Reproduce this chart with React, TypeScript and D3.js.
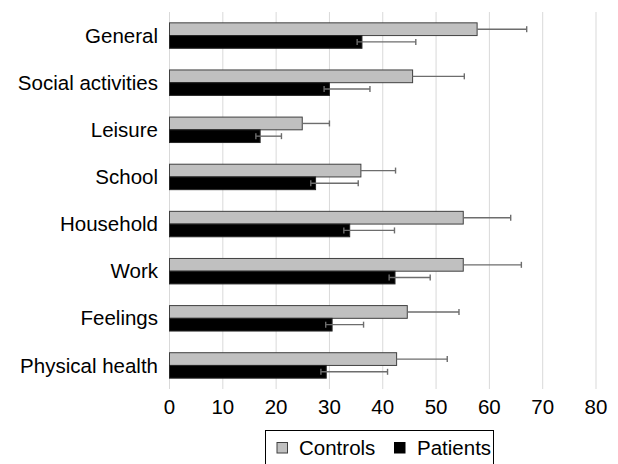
import * as React from "react";
import * as d3 from "d3";

// Mean scores per domain
const categories = [
  "General",
  "Social activities",
  "Leisure",
  "School",
  "Household",
  "Work",
  "Feelings",
  "Physical health",
];
const controls = [57.7, 45.6, 24.9, 35.9, 55.1, 55.1, 44.6, 42.6];
const controlsHigh = [67.0, 55.3, 30.0, 42.4, 64.0, 66.0, 54.3, 52.1];
const patients = [36.1, 30.0, 17.0, 27.4, 33.8, 42.3, 30.5, 29.4];
const patientsLow = [35.2, 29.0, 16.2, 26.5, 32.7, 41.2, 29.3, 28.4];
const patientsHigh = [46.2, 37.6, 21.0, 35.4, 42.2, 48.9, 36.4, 40.9];
const xTicks = [0, 10, 20, 30, 40, 50, 60, 70, 80];
const seriesNames = ["Controls", "Patients"];

const W = 618;
const H = 464;
const font = "'Liberation Sans', Arial, sans-serif";
const fs = 20.5;

export default function App() {
  const x = d3.scaleLinear().domain([0, 80]).range([169.5, 596]);
  const y = d3
    .scaleBand<string>()
    .domain(categories)
    .range([12, 389])
    .paddingInner(0.46)
    .paddingOuter(0.23);
  const sub = d3.scaleBand<string>().domain(seriesNames).range([0, y.bandwidth()]);
  const bh = sub.bandwidth();
  const cap = 3;
  const errColor = "#6d6d6d";

  return (
    <svg
      width={W}
      height={H}
      viewBox={`0 0 ${W} ${H}`}
      style={{ position: "absolute", left: 0, top: 0, background: "#fff" }}
    >
      {/* grid */}
      {xTicks.map((t) => (
        <line key={t} x1={x(t)} x2={x(t)} y1={12} y2={389} stroke="#d9d9d9" strokeWidth={1} />
      ))}

      {categories.map((c, i) => {
        const y0 = y(c) ?? 0;
        const yc = y0 + (sub("Controls") ?? 0);
        const yp = y0 + (sub("Patients") ?? 0);
        const cMid = yc + bh / 2;
        const pMid = yp + bh / 2;
        return (
          <g key={c}>
            <rect
              x={x(0)}
              y={yc}
              width={x(controls[i]) - x(0)}
              height={bh}
              fill="#c0c0c0"
              stroke="#404040"
              strokeWidth={1}
            />
            <rect
              x={x(0)}
              y={yp}
              width={x(patients[i]) - x(0)}
              height={bh}
              fill="#000"
              stroke="#262626"
              strokeWidth={1}
            />
            {/* error bars: controls upward only, patients with short lower whisker */}
            <g stroke={errColor} strokeWidth={1.4}>
              <line x1={x(controls[i])} x2={x(controlsHigh[i])} y1={cMid} y2={cMid} />
              <line x1={x(controlsHigh[i])} x2={x(controlsHigh[i])} y1={cMid - cap} y2={cMid + cap} />
              <line x1={x(patientsLow[i])} x2={x(patientsHigh[i])} y1={pMid} y2={pMid} />
              <line x1={x(patientsLow[i])} x2={x(patientsLow[i])} y1={pMid - cap} y2={pMid + cap} />
              <line x1={x(patientsHigh[i])} x2={x(patientsHigh[i])} y1={pMid - cap} y2={pMid + cap} />
            </g>
            <text
              x={158}
              y={y0 + y.bandwidth() / 2}
              dy="0.35em"
              textAnchor="end"
              fontFamily={font}
              fontSize={fs}
              fill="#000"
            >
              {c}
            </text>
          </g>
        );
      })}

      {/* x tick labels */}
      {xTicks.map((t) => (
        <text
          key={t}
          x={x(t)}
          y={407}
          dy="0.35em"
          textAnchor="middle"
          fontFamily={font}
          fontSize={fs}
          fill="#000"
        >
          {t}
        </text>
      ))}

      {/* legend */}
      <rect x={265.5} y={430.5} width={228} height={40} fill="#fff" stroke="#000" strokeWidth={1} />
      <rect x={277} y={442.5} width={10.5} height={10.5} fill="#c0c0c0" stroke="#404040" strokeWidth={1} />
      <text x={299} y={448} dy="0.35em" fontFamily={font} fontSize={fs} fill="#000">
        Controls
      </text>
      <rect x={394.5} y={442.5} width={10.5} height={10.5} fill="#000" stroke="#000" strokeWidth={1} />
      <text x={417} y={448} dy="0.35em" fontFamily={font} fontSize={fs} fill="#000">
        Patients
      </text>
    </svg>
  );
}
